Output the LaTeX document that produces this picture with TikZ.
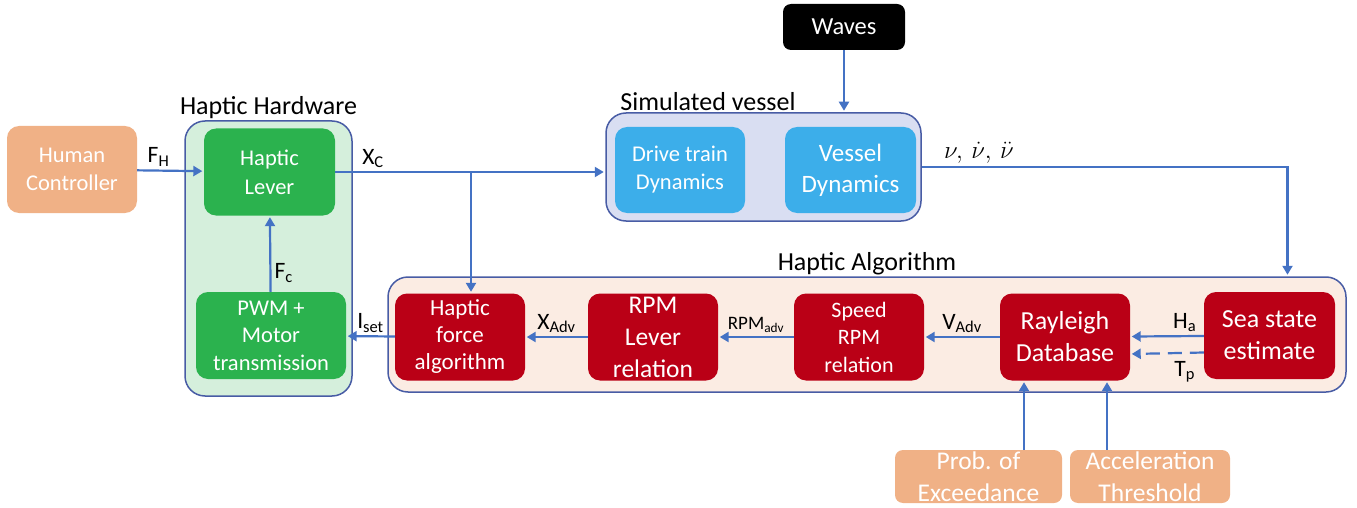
\documentclass[tikz,border=0pt]{standalone}
\usepackage{fontspec}
\setmainfont{Carlito}
\usetikzlibrary{arrows.meta,positioning}

\definecolor{linkblue}{RGB}{68,114,196}
\definecolor{frameblue}{RGB}{72,92,165}
\definecolor{inorange}{RGB}{240,177,134}
\definecolor{hwgreen}{RGB}{43,178,78}
\definecolor{hwfill}{RGB}{213,239,220}
\definecolor{simblue}{RGB}{60,174,234}
\definecolor{simfill}{RGB}{217,222,242}
\definecolor{algred}{RGB}{186,0,22}
\definecolor{algfill}{RGB}{251,236,227}
\newcommand{\fsz}[2]{\fontsize{#1}{#2}\selectfont}

\begin{document}
\begin{tikzpicture}[
  x=1pt, y=-1pt,
  font=\fsz{23}{28},
  box/.style={rounded corners=12pt, align=center, text=white, minimum width=130pt, minimum height=87pt, inner sep=1pt},
  frame/.style={draw=frameblue, line width=1.5pt, rounded corners=20pt},
  title/.style={font=\fsz{26}{30}, inner sep=1pt},
  lab/.style={font=\fsz{23.5}{26}, inner sep=3pt},
  arr/.style={-{Triangle[width=10pt,length=9pt]}, draw=linkblue, line width=2.2pt, shorten >=1.5pt}
]
\useasboundingbox (0,0) rectangle (1357,508);

% groups
\node[frame, fill=hwfill, minimum width=167pt, minimum height=275pt] (hw) at (268.5,258.5) {};
\node[frame, fill=simfill, minimum width=315pt, minimum height=108pt] (sim) at (763.5,167) {};
\node[frame, fill=algfill, minimum width=958pt, minimum height=115pt] (alg) at (867,334.5) {};
\node[title, above=0pt of hw] (hwtitle) {Haptic Hardware};
\node[title, anchor=south] (simtitle) at (708,112) {Simulated vessel};
\node[title, above=0pt of alg] (algtitle) {Haptic Algorithm};

% blocks
\node[box, fill=inorange, font=\fsz{22.5}{28}] (human) at (72,169.5) {Human\\Controller};
\node[box, fill=hwgreen, minimum width=131pt, font=\fsz{22.5}{29}] (lever) at (269.5,172) {Haptic\\Lever};
\node[box, fill=hwgreen, minimum width=150pt, font=\fsz{22.5}{27.5}] (pwm) at (271,335.5) {PWM +\\Motor\\transmission};
\node[box, fill=simblue, minimum height=86pt, font=\fsz{22.5}{28}] (drive) at (680,170) {Drive train\\Dynamics};
\node[box, fill=simblue, minimum width=131pt, minimum height=86pt, font=\fsz{25}{31}] (vessel) at (850.5,170) {Vessel\\Dynamics};
\node[box, fill=black, minimum width=122pt, minimum height=46pt, rounded corners=8pt, font=\fsz{24.5}{28}] (waves) at (844,27) {Waves};
\node[box, fill=algred, font=\fsz{23}{27}] (haf) at (460,337) {Haptic\\force\\algorithm};
\node[box, fill=algred, font=\fsz{25.5}{32}] (rpm) at (653,337) {RPM\\Lever\\relation};
\node[box, fill=algred, font=\fsz{22}{27.5}] (speed) at (859,337) {Speed\\RPM\\relation};
\node[box, fill=algred, font=\fsz{26}{32}] (ray) at (1065,337) {Rayleigh\\Database};
\node[box, fill=algred, minimum width=131pt, font=\fsz{26}{32}] (sea) at (1269.5,335.5) {Sea state\\estimate};
\node[box, fill=inorange, minimum width=167pt, minimum height=53pt, inner sep=0pt, rounded corners=8pt, font=\fsz{25.5}{32}] (prob) at (978.5,476.5) {Prob. of\\Exceedance};
\node[box, fill=inorange, minimum width=160pt, minimum height=53pt, inner sep=0pt, rounded corners=8pt, font=\fsz{25.5}{32}] (accel) at (1150,476.5) {Acceleration\\Threshold};

\coordinate (tap) at ([xshift=11pt]haf.north);
\coordinate (nu) at ([xshift=18pt]sea.north |- alg.north);
\coordinate (pin1) at ([xshift=-41pt]ray.south);
\coordinate (pin2) at ([xshift=42pt]ray.south);

% signals
\draw[arr] (human) -- node[lab, above, pos=0.32] {F\textsubscript{H}} (lever);
\draw[arr] (pwm) -- node[lab, right, pos=0.25] {F\textsubscript{c}} (lever);
\draw[arr] (lever.east) -- node[lab, above, pos=0.14] {X\textsubscript{C}} (lever.east -| sim.west);
\draw[arr] (tap |- lever.east) -- (tap);
\draw[arr] (waves) -- (waves |- sim.north);
\draw[arr] (sim.east) -| node[lab, above, pos=0.078, font=\fsz{24}{26}] {$\nu,\,\dot{\nu},\,\ddot{\nu}$} (nu);
\draw[arr] (haf) -- node[lab, above] {I\textsubscript{set}} (pwm);
\draw[arr] (rpm) -- node[lab, above] {X\textsubscript{Adv}} (haf);
\draw[arr] (speed) -- node[lab, above, font=\fsz{19}{22}] {RPM\textsubscript{adv}} (rpm);
\draw[arr] (ray) -- node[lab, above] {V\textsubscript{Adv}} (speed);
\draw[arr] (sea) -- node[lab, above, pos=0.26] {H\textsubscript{a}} (ray);
\draw[arr, dash pattern=on 14pt off 8pt] ([yshift=-17pt]sea.west) -- node[lab, below=4pt, pos=0.26] {T\textsubscript{p}} ([yshift=-17pt]ray.east);
\draw[arr] (prob.north -| pin1) -- (pin1);
\draw[arr] (accel.north -| pin2) -- (pin2);
\end{tikzpicture}
\end{document}
